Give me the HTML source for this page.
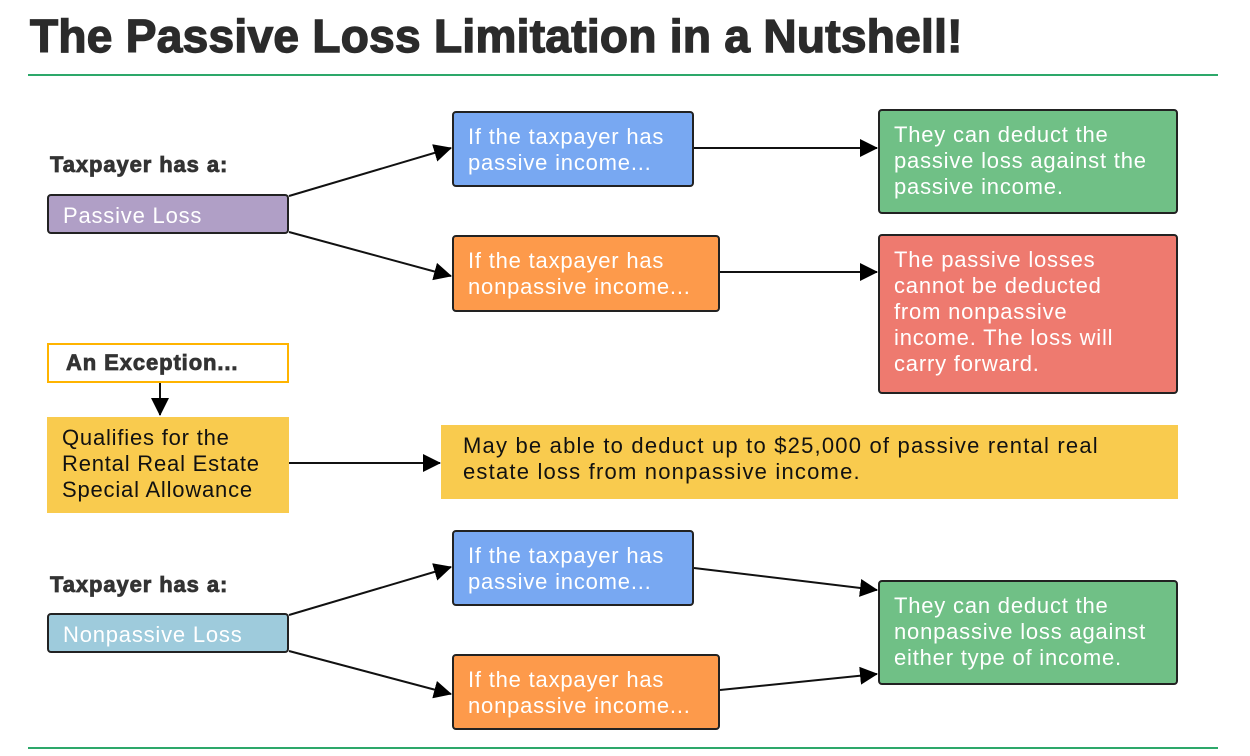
<!DOCTYPE html>
<html><head><meta charset="utf-8"><style>
body{margin:0;width:1250px;height:756px;background:#fff;position:relative;overflow:hidden;font-family:"Liberation Sans",Arial,sans-serif}
.b{position:absolute;box-sizing:border-box;border:2px solid #222;border-radius:4px;color:#fff;font-size:22px;letter-spacing:0.8px;line-height:26px;padding:11px 0 0 14px;white-space:nowrap}
.t{position:absolute;font-weight:bold;color:#333;font-size:22px;letter-spacing:0.9px;-webkit-text-stroke:0.8px #333}
</style></head><body>
<div style="position:absolute;left:30px;top:9px;font-size:46px;font-weight:900;color:#2b2b2b;letter-spacing:0.3px;-webkit-text-stroke:1.4px #2b2b2b">The Passive Loss Limitation in a Nutshell!</div>
<div style="position:absolute;left:28px;top:74px;width:1190px;height:2px;background:#2da86a"></div>
<div style="position:absolute;left:28px;top:747px;width:1190px;height:2px;background:#2da86a"></div>

<div class="t" style="left:50px;top:152px">Taxpayer has a:</div>
<div class="b" style="left:47px;top:194px;width:242px;height:40px;background:#b09fc6;padding-top:7px">Passive Loss</div>
<div class="b" style="left:452px;top:111px;width:242px;height:76px;background:#78a8f2">If the taxpayer has<br>passive income...</div>
<div class="b" style="left:452px;top:235px;width:268px;height:77px;background:#fd9a4b">If the taxpayer has<br>nonpassive income...</div>
<div class="b" style="left:878px;top:109px;width:300px;height:105px;background:#70c086">They can deduct the<br>passive loss against the<br>passive income.</div>
<div class="b" style="left:878px;top:234px;width:300px;height:160px;background:#ee7a6f">The passive losses<br>cannot be deducted<br>from nonpassive<br>income. The loss will<br>carry forward.</div>

<div style="position:absolute;left:47px;top:343px;width:242px;height:40px;box-sizing:border-box;border:2px solid #ffb400;background:#fff"></div>
<div class="t" style="left:66px;top:350px">An Exception...</div>
<div class="b" style="left:47px;top:417px;width:242px;height:96px;background:#f9cb4e;border:none;border-radius:0;color:#111;padding:8px 0 0 15px">Qualifies for the<br>Rental Real Estate<br>Special Allowance</div>
<div class="b" style="left:441px;top:425px;width:737px;height:74px;background:#f9cb4e;border:none;border-radius:0;color:#111;padding:8px 0 0 22px;letter-spacing:1.2px">May be able to deduct up to $25,000 of passive rental real<br>estate loss from nonpassive income.</div>

<div class="t" style="left:50px;top:572px">Taxpayer has a:</div>
<div class="b" style="left:47px;top:613px;width:242px;height:40px;background:#9ecbdc;padding-top:7px">Nonpassive Loss</div>
<div class="b" style="left:452px;top:530px;width:242px;height:76px;background:#78a8f2">If the taxpayer has<br>passive income...</div>
<div class="b" style="left:452px;top:654px;width:268px;height:76px;background:#fd9a4b">If the taxpayer has<br>nonpassive income...</div>
<div class="b" style="left:878px;top:580px;width:300px;height:105px;background:#70c086">They can deduct the<br>nonpassive loss against<br>either type of income.</div>

<svg width="1250" height="756" style="position:absolute;left:0;top:0">
<defs>
<marker id="m" markerWidth="18" markerHeight="18" refX="17" refY="9" orient="auto" markerUnits="userSpaceOnUse" viewBox="0 0 18 18"><path d="M0,0L18,9L0,18z" fill="#000"/></marker></defs>
<g stroke="#111" stroke-width="2" fill="none" marker-end="url(#m)">
<line x1="289" y1="196" x2="451" y2="148"/>
<line x1="289" y1="232" x2="451" y2="276"/>
<line x1="694" y1="148" x2="877" y2="148"/>
<line x1="720" y1="272" x2="877" y2="272"/>
<line x1="160" y1="383" x2="160" y2="415"/>
<line x1="289" y1="463" x2="440" y2="463"/>
<line x1="289" y1="615" x2="451" y2="567"/>
<line x1="289" y1="651" x2="451" y2="694"/>
<line x1="694" y1="568" x2="877" y2="590"/>
<line x1="720" y1="690" x2="877" y2="674"/>
</g></svg>
</body></html>
